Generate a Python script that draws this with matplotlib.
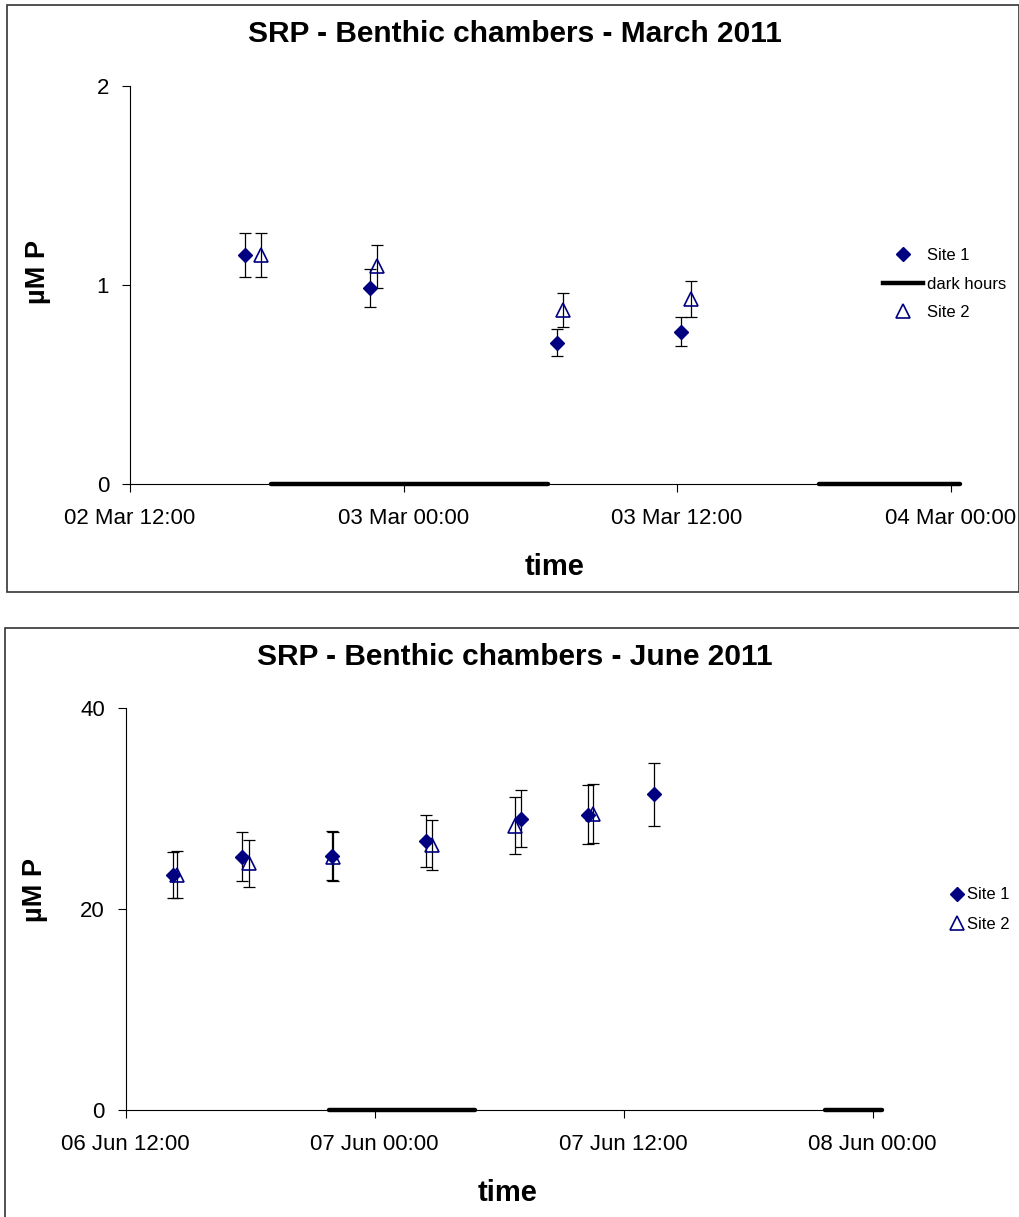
import matplotlib
matplotlib.use("Agg")
import matplotlib.pyplot as plt
import matplotlib.dates as mdates
from matplotlib.lines import Line2D
from matplotlib.patches import Rectangle
from datetime import datetime

plt.rcParams['font.family'] = ['Liberation Sans', 'DejaVu Sans']

# ---------------- data ----------------
mar_site1_time = ["2011-03-02 17:04", "2011-03-02 22:33", "2011-03-03 06:45", "2011-03-03 12:10"]
mar_site1_srp = [1.15, 0.985, 0.71, 0.765]
mar_site1_err = [0.112, 0.095, 0.067, 0.073]
mar_site2_time = ["2011-03-02 17:44", "2011-03-02 22:49", "2011-03-03 07:01", "2011-03-03 12:36"]
mar_site2_srp = [1.15, 1.094, 0.875, 0.93]
mar_site2_err = [0.112, 0.107, 0.086, 0.091]
mar_dark_start = ["2011-03-02 18:10", "2011-03-03 18:15"]
mar_dark_end = ["2011-03-03 06:20", "2011-03-04 00:25"]
mar_xlim = ["2011-03-02 12:00", "2011-03-04 00:25"]

jun_site1_time = ["2011-06-06 14:17", "2011-06-06 17:36", "2011-06-06 21:57", "2011-06-07 02:29",
                  "2011-06-07 07:02", "2011-06-07 10:17", "2011-06-07 13:29"]
jun_site1_srp = [23.4, 25.2, 25.3, 26.8, 29.0, 29.4, 31.4]
jun_site1_err = [2.3, 2.45, 2.45, 2.6, 2.85, 2.9, 3.1]
jun_site2_time = ["2011-06-06 14:30", "2011-06-06 17:56", "2011-06-06 22:00", "2011-06-07 02:46",
                  "2011-06-07 06:46", "2011-06-07 10:31"]
jun_site2_srp = [23.4, 24.55, 25.2, 26.4, 28.3, 29.5]
jun_site2_err = [2.33, 2.35, 2.45, 2.5, 2.8, 2.9]
jun_dark_start = ["2011-06-06 21:47", "2011-06-07 21:42"]
jun_dark_end = ["2011-06-07 04:50", "2011-06-08 00:26"]
jun_xlim = ["2011-06-06 12:00", "2011-06-08 00:26"]

mar_yticks = [0, 1, 2]
jun_yticks = [0, 20, 40]

NAVY = "#000080"


def dt(s):
    return datetime.strptime(s, "%Y-%m-%d %H:%M")


def dts(lst):
    return [dt(s) for s in lst]


W, H = 1020, 1217
fig = plt.figure(figsize=(W / 100, H / 100), dpi=100)


def fx(px):
    return px / W


def fy(py):
    return 1 - py / H


def panel(rect, s1t, s1v, s1e, s2t, s2v, s2e, dks, dke, xlim, yticks):
    ax = fig.add_axes(rect)
    for sp in ["top", "right"]:
        ax.spines[sp].set_visible(False)
    for sp in ["left", "bottom"]:
        ax.spines[sp].set_linewidth(0.8)
        ax.spines[sp].set_color("black")
    ax.errorbar(dts(s1t), s1v, yerr=s1e, fmt="none", ecolor="black", elinewidth=0.9,
                capsize=4, capthick=0.9, zorder=2)
    ax.errorbar(dts(s2t), s2v, yerr=s2e, fmt="none", ecolor="black", elinewidth=0.9,
                capsize=4, capthick=0.9, zorder=2)
    ax.plot(dts(s1t), s1v, linestyle="none", marker="D", ms=7, mfc=NAVY, mec=NAVY, zorder=4)
    ax.plot(dts(s2t), s2v, linestyle="none", marker="^", ms=10.5, mfc="none", mec=NAVY,
            mew=1.2, zorder=3)
    for a, b in zip(dks, dke):
        ax.plot([dt(a), dt(b)], [0, 0], color="black", lw=3.2, solid_capstyle="round",
                clip_on=False, zorder=5)
    ax.set_xlim(dt(xlim[0]), dt(xlim[1]))
    ax.set_ylim(yticks[0], yticks[-1])
    ax.set_yticks(yticks)
    ax.xaxis.set_major_locator(mdates.HourLocator(byhour=[0, 12]))
    ax.xaxis.set_major_formatter(mdates.DateFormatter("%d %b %H:%M"))
    ax.tick_params(axis="both", direction="out", length=6, width=0.8, labelsize=16)
    ax.tick_params(axis="x", pad=11)
    ax.tick_params(axis="y", pad=9)
    return ax


ax1 = panel([fx(130), fy(484), fx(830), (484 - 86) / H],
            mar_site1_time, mar_site1_srp, mar_site1_err,
            mar_site2_time, mar_site2_srp, mar_site2_err,
            mar_dark_start, mar_dark_end, mar_xlim, mar_yticks)
ax2 = panel([fx(125.6), fy(1110), fx(756), (1110 - 708) / H],
            jun_site1_time, jun_site1_srp, jun_site1_err,
            jun_site2_time, jun_site2_srp, jun_site2_err,
            jun_dark_start, jun_dark_end, jun_xlim, jun_yticks)

# titles and axis labels
fig.text(fx(515), fy(34), "SRP - Benthic chambers - March 2011", ha="center", va="center",
         fontsize=21.5, fontweight="bold")
fig.text(fx(555), fy(567), "time", ha="center", va="center", fontsize=21, fontweight="bold")
fig.text(fx(38), fy(272), "µM P", ha="center", va="center", rotation=90, fontsize=19.5,
         fontweight="bold")

fig.text(fx(515), fy(657), "SRP - Benthic chambers - June 2011", ha="center", va="center",
         fontsize=21.5, fontweight="bold")
fig.text(fx(508), fy(1193), "time", ha="center", va="center", fontsize=21, fontweight="bold")
fig.text(fx(35), fy(890), "µM P", ha="center", va="center", rotation=90, fontsize=19.5,
         fontweight="bold")

# legends
h_s1 = Line2D([], [], linestyle="none", marker="D", ms=7, mfc=NAVY, mec=NAVY)
h_dark = Line2D([], [], color="black", lw=3.2)
h_s2 = Line2D([], [], linestyle="none", marker="^", ms=10.5, mfc="none", mec=NAVY, mew=1.2)

fig.legend([h_s1, h_dark, h_s2], ["Site 1", "dark hours", "Site 2"], loc="center left",
           bbox_to_anchor=(fx(883), fy(284)), frameon=False, fontsize=12, borderpad=0,
           borderaxespad=0, handlelength=2.4, handletextpad=0.25, labelspacing=0.8)
fig.legend([h_s1, h_s2], ["Site 1", "Site 2"], loc="center left",
           bbox_to_anchor=(fx(950), fy(909.5)), frameon=False, fontsize=12, borderpad=0,
           borderaxespad=0, handlelength=0.85, handletextpad=0.2, labelspacing=0.85)

# chart frames
fig.add_artist(Rectangle((fx(7), fy(592)), fx(1012), (592 - 5) / H, transform=fig.transFigure,
                         fill=False, edgecolor="#333333", lw=1.2))
fig.add_artist(Rectangle((fx(5), fy(1240)), fx(1100), (1240 - 628) / H,
                         transform=fig.transFigure, fill=False, edgecolor="#333333", lw=1.2,
                         clip_on=False))

fig.savefig("out.png", dpi=100, facecolor="white")
